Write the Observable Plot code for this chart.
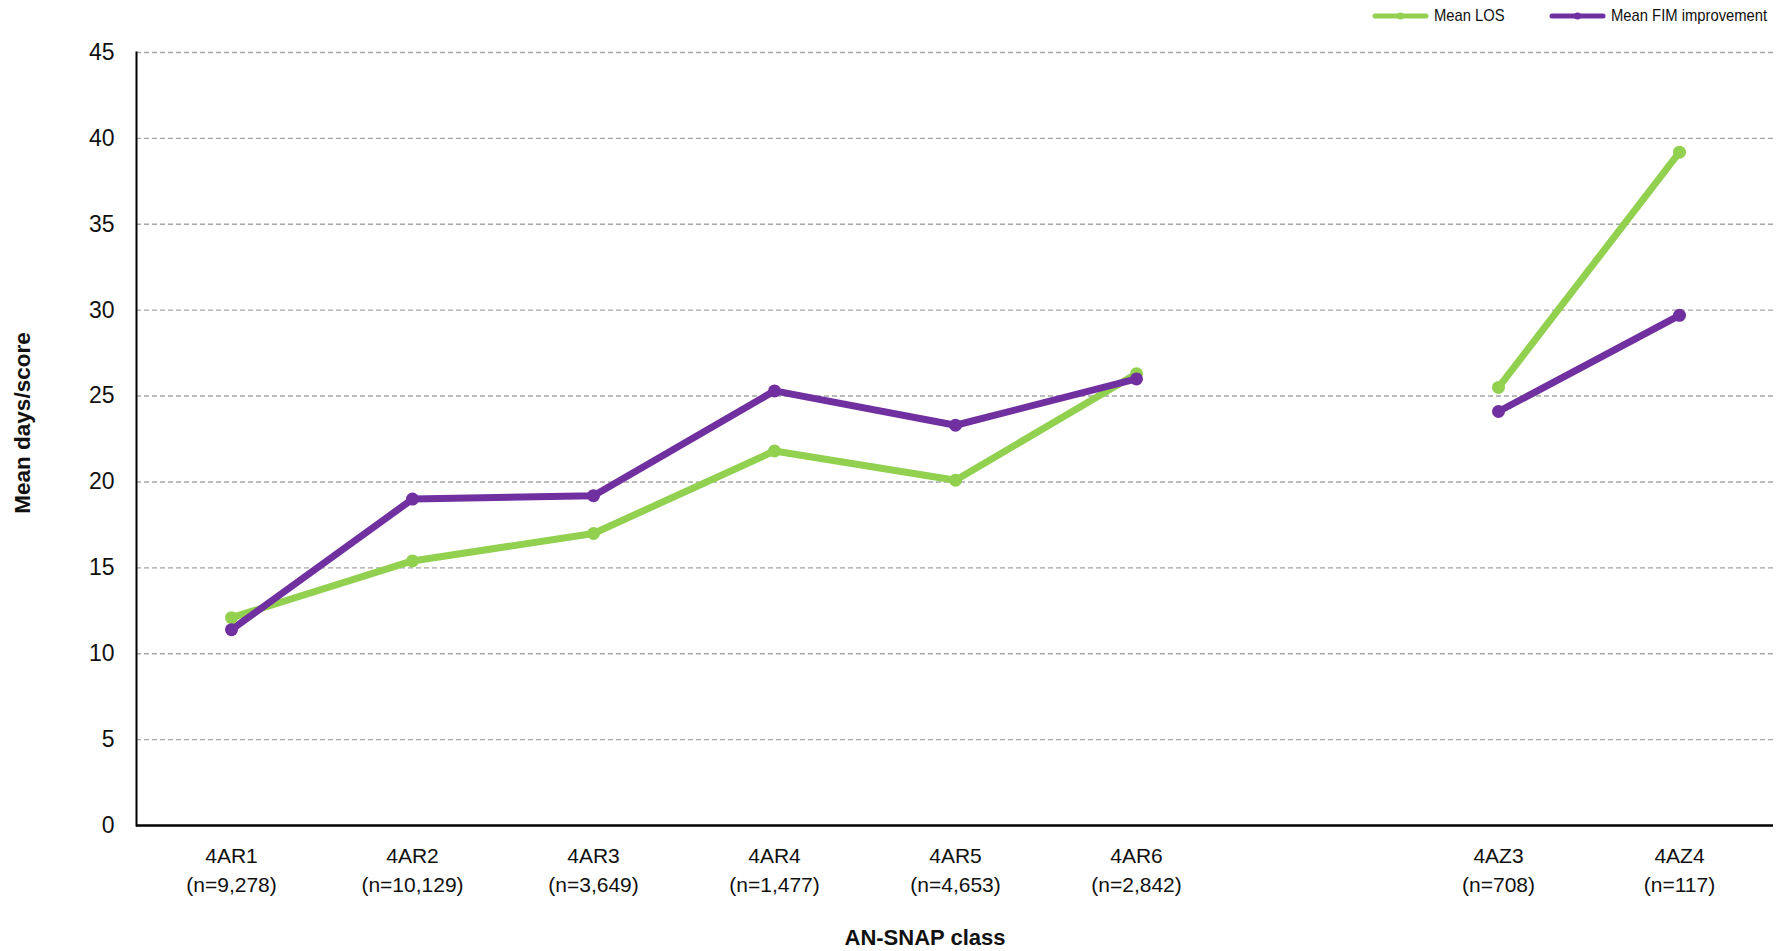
<!DOCTYPE html>
<html><head><meta charset="utf-8">
<script src="https://cdn.jsdelivr.net/npm/d3@7"></script>
<script src="https://cdn.jsdelivr.net/npm/@observablehq/plot@0.6"></script>
<style>
html,body{margin:0;padding:0;background:#fff;}
#wrap{position:relative;width:1788px;height:951px;overflow:hidden;}
.lg{position:absolute;top:0;height:32px;display:flex;align-items:center;font-family:'Liberation Sans Narrow','Liberation Sans',Arial,sans-serif;font-size:17px;color:#111;white-space:nowrap;}
.lg svg{margin-right:5px;flex:none;}
.lg span{display:inline-block;transform:scaleX(0.87);transform-origin:left center;}
</style></head>
<body><div id="wrap"><div id="chart"></div></div>
<script>
const categories = ["4AR1","4AR2","4AR3","4AR4","4AR5","4AR6","4AZ3","4AZ4"];
const counts = ["9,278","10,129","3,649","1,477","4,653","2,842","708","117"];
const groups = ["AR","AR","AR","AR","AR","AR","AZ","AZ"];
const seriesNames = ["Mean LOS","Mean FIM improvement"];
const meanLOS = [12.1,15.4,17.0,21.8,20.1,26.3,25.5,39.2];
const meanFIM = [11.4,19.0,19.2,25.3,23.3,26.0,24.1,29.7];
const yTicks = [0,5,10,15,20,25,30,35,40,45];
const seriesColors = ["#92D050","#7030A0"];
const xLabel = "AN-SNAP class";
const yLabel = "Mean days/score";

const gapKey = " ";
const xDomain = [...categories.slice(0,6), gapKey, ...categories.slice(6)];
const countOf = new Map(categories.map((c,i)=>[c,counts[i]]));
const rows = [];
categories.forEach((c,i)=>{
  rows.push({cat:c, series:seriesNames[0], value:meanLOS[i], seg:groups[i]});
  rows.push({cat:c, series:seriesNames[1], value:meanFIM[i], seg:groups[i]});
});
const FONT = "'Liberation Sans Narrow','Liberation Sans',Arial,sans-serif";

const plot = Plot.plot({
  width:1788, height:951,
  marginLeft:136, marginRight:15, marginTop:52, marginBottom:126,
  style:{fontFamily:FONT, background:"#fff", color:"#111"},
  x:{type:"point", domain:xDomain, padding:0.5},
  y:{domain:[0,45]},
  color:{domain:seriesNames, range:seriesColors},
  marks:[
    Plot.gridY(yTicks.filter(t=>t>0), {stroke:"#a6a6a6", strokeOpacity:1, strokeDasharray:"5,3", strokeWidth:1.4}),
    Plot.ruleY([0], {stroke:"#000", strokeWidth:2.5}),
    Plot.frame({anchor:"left", stroke:"#000", strokeWidth:2}),
    Plot.axisY(yTicks, {tickSize:0, tickPadding:22, fontSize:23, label:null}),
    Plot.axisX(xDomain, {tickSize:0, tickPadding:16, fontSize:21, lineHeight:1.42, label:null,
      tickFormat: d => countOf.has(d) ? `${d}\n(n=${countOf.get(d)})` : ""}),
    Plot.line(rows, {x:"cat", y:"value", stroke:"series", z:d=>d.series+d.seg, strokeWidth:7, strokeLinecap:"round"}),
    Plot.dot(rows, {x:"cat", y:"value", fill:"series", r:6.5}),
    Plot.text([xLabel], {frameAnchor:"bottom", dy:112, dx:-30, fontSize:22, fontWeight:"bold", lineAnchor:"middle", fill:"#111"}),
    Plot.text([yLabel], {frameAnchor:"left", dx:-114, dy:-16, rotate:-90, textAnchor:"middle", fontSize:22.5, fontWeight:"bold", fill:"#111"})
  ]
});
const wrap = document.getElementById("wrap");
document.getElementById("chart").appendChild(plot);

// legend
const legendPos = [1372, 1549];
seriesNames.forEach((name,i)=>{
  const div = document.createElement("div");
  div.className = "lg";
  div.style.left = legendPos[i] + "px";
  div.innerHTML = `<svg width="57" height="10"><line x1="3" y1="5" x2="54" y2="5" stroke="${seriesColors[i]}" stroke-width="5" stroke-linecap="round"/><circle cx="28.5" cy="5" r="3.5" fill="${seriesColors[i]}"/></svg><span>${name}</span>`;
  wrap.appendChild(div);
});
</script>
</body></html>
